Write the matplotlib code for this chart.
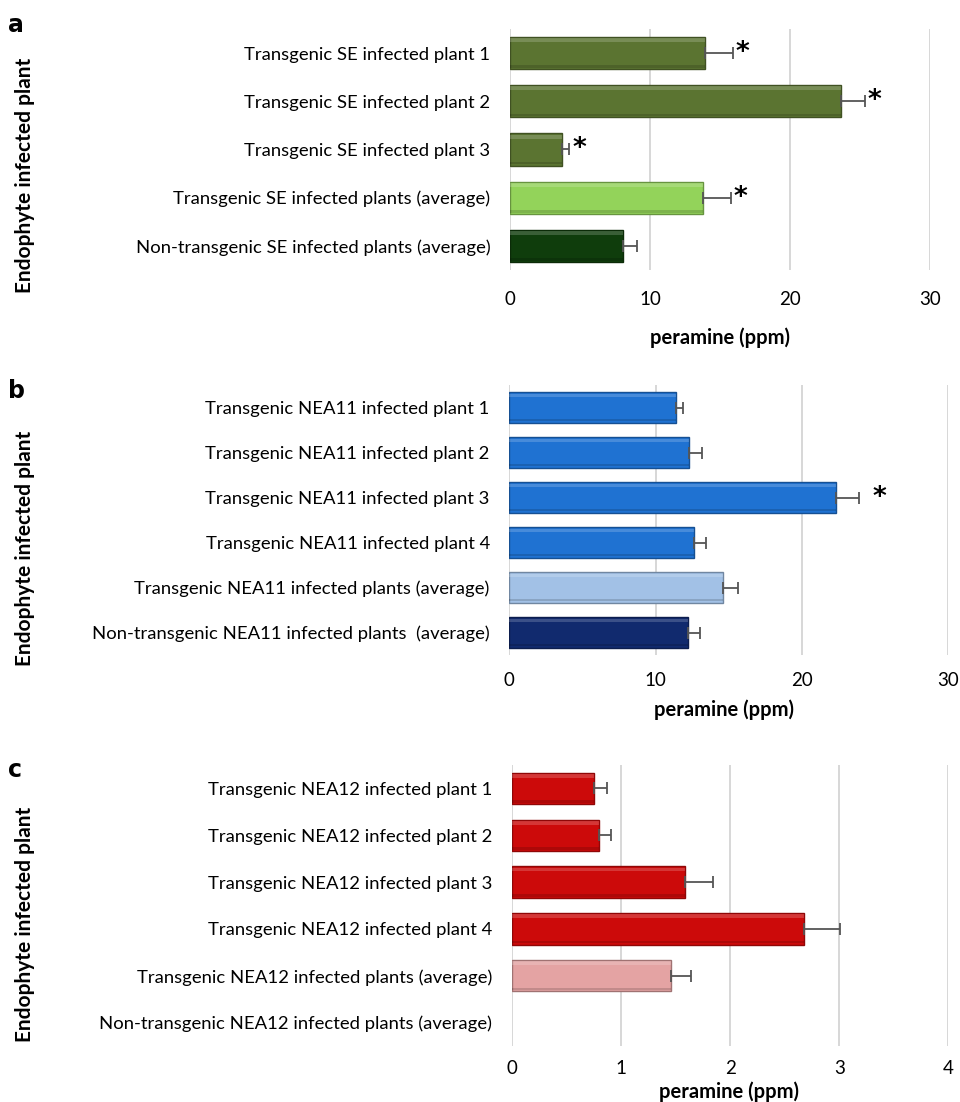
import matplotlib.pyplot as plt
import numpy as np

plt.rcParams['font.family'] = ['Lato', 'DejaVu Sans']

# Panel a: SE endophyte
labels_a = ['Transgenic SE infected plant 1', 'Transgenic SE infected plant 2',
            'Transgenic SE infected plant 3', 'Transgenic SE infected plants (average)',
            'Non-transgenic SE infected plants (average)']
vals_a = [13.9, 23.6, 3.75, 13.8, 8.1]
errs_a = [2.0, 1.75, 0.5, 1.95, 1.0]
stars_a = [True, True, True, True, False]
colors_a = ['#5b7431', '#5b7431', '#5b7431', '#93d35a', '#0f3d0c']

# Panel b: NEA11 endophyte
labels_b = ['Transgenic NEA11 infected plant 1', 'Transgenic NEA11 infected plant 2',
            'Transgenic NEA11 infected plant 3', 'Transgenic NEA11 infected plant 4',
            'Transgenic NEA11 infected plants (average)',
            'Non-transgenic NEA11 infected plants  (average)']
vals_b = [11.4, 12.3, 22.3, 12.6, 14.6, 12.2]
errs_b = [0.5, 0.9, 1.6, 0.85, 1.0, 0.85]
stars_b = [False, False, True, False, False, False]
colors_b = ['#1f72d2', '#1f72d2', '#1f72d2', '#1f72d2', '#a2c1e6', '#112a6e']

# Panel c: NEA12 endophyte
labels_c = ['Transgenic NEA12 infected plant 1', 'Transgenic NEA12 infected plant 2',
            'Transgenic NEA12 infected plant 3', 'Transgenic NEA12 infected plant 4',
            'Transgenic NEA12 infected plants (average)',
            'Non-transgenic NEA12 infected plants (average)']
vals_c = [0.75, 0.80, 1.59, 2.68, 1.46, 0.0]
errs_c = [0.12, 0.11, 0.25, 0.33, 0.18, 0.0]
stars_c = [False] * 6
colors_c = ['#cc0a0a', '#cc0a0a', '#cc0a0a', '#cc0a0a', '#e4a3a3', '#7a0000']


def darker(c, f=0.7):
    r, g, b = [int(c[i:i + 2], 16) / 255 for i in (1, 3, 5)]
    return (r * f, g * f, b * f)


def draw_panel(ax, labels, vals, errs, stars, colors, xmax, xticks, star_gap, xpad=15):
    y = np.arange(len(vals))
    h = 0.67
    lw = [1.0 if v > 0 else 0 for v in vals]
    ax.barh(y, vals, height=h, color=colors, edgecolor=[darker(c) for c in colors],
            linewidth=lw, zorder=3)
    # bevel: soft light band on top, shade along bottom
    ax.barh(y - h * 0.40, vals, height=h * 0.12, color='white', alpha=0.18,
            linewidth=0, zorder=4)
    ax.barh(y + h * 0.42, vals, height=h * 0.08, color='black', alpha=0.15,
            linewidth=0, zorder=4)
    shown = [i for i, v in enumerate(vals) if v > 0]
    ax.errorbar([vals[i] for i in shown], [y[i] for i in shown],
                xerr=[[0] * len(shown), [errs[i] for i in shown]],
                fmt='none', ecolor='#555555', elinewidth=1.3, capsize=4,
                capthick=1.3, zorder=5)
    for i, s in enumerate(stars):
        if s:
            ax.text(vals[i] + errs[i] + star_gap, y[i], '*', fontsize=19,
                    fontweight='bold', va='center', ha='left',
                    family='DejaVu Sans', zorder=6)
    ax.set_xlim(0, xmax)
    ax.set_ylim(len(vals) - 0.5, -0.5)
    ax.set_xticks(xticks)
    ax.set_yticks(y)
    ax.set_yticklabels(labels, fontsize=13.3)
    ax.tick_params(axis='both', length=0)
    ax.tick_params(axis='y', pad=14)
    ax.tick_params(axis='x', labelsize=13.5, pad=xpad)
    ax.grid(axis='x', color='#d4d4d4', linewidth=1.3, zorder=0)
    ax.set_axisbelow(True)
    for sp in ax.spines.values():
        sp.set_visible(False)


W, H = 960, 1102
fig = plt.figure(figsize=(W / 100, H / 100), dpi=100)

ax_a = fig.add_axes([0.531, 0.755, 0.438, 0.2187])
draw_panel(ax_a, labels_a, vals_a, errs_a, stars_a, colors_a, 30, [0, 10, 20, 30], 0.2)

ax_b = fig.add_axes([0.5305, 0.4056, 0.4573, 0.245])
draw_panel(ax_b, labels_b, vals_b, errs_b, stars_b, colors_b, 30, [0, 10, 20, 30], 0.9,
           xpad=12)

ax_c = fig.add_axes([0.533, 0.0508, 0.455, 0.255])
draw_panel(ax_c, labels_c, vals_c, errs_c, stars_c, colors_c, 4, [0, 1, 2, 3, 4], 0.05,
           xpad=10)

# x-axis titles
for xc, yc in [(720, 338), (724, 710), (729, 1092)]:
    fig.text(xc / W, 1 - yc / H, 'peramine (ppm)', fontsize=14.5, fontweight='bold',
             ha='center', va='center')

# panel letters and row titles
for letter, ly, ty in [('a', 25, 175), ('b', 391, 548), ('c', 770, 924)]:
    fig.text(0.008, 1 - ly / H, letter, fontsize=17, fontweight='bold',
             family='DejaVu Sans', va='center', ha='left')
    fig.text(25 / W, 1 - ty / H, 'Endophyte infected plant', fontsize=15,
             fontweight='bold', rotation=90, va='center', ha='center')

fig.savefig('out.png', dpi=100)
